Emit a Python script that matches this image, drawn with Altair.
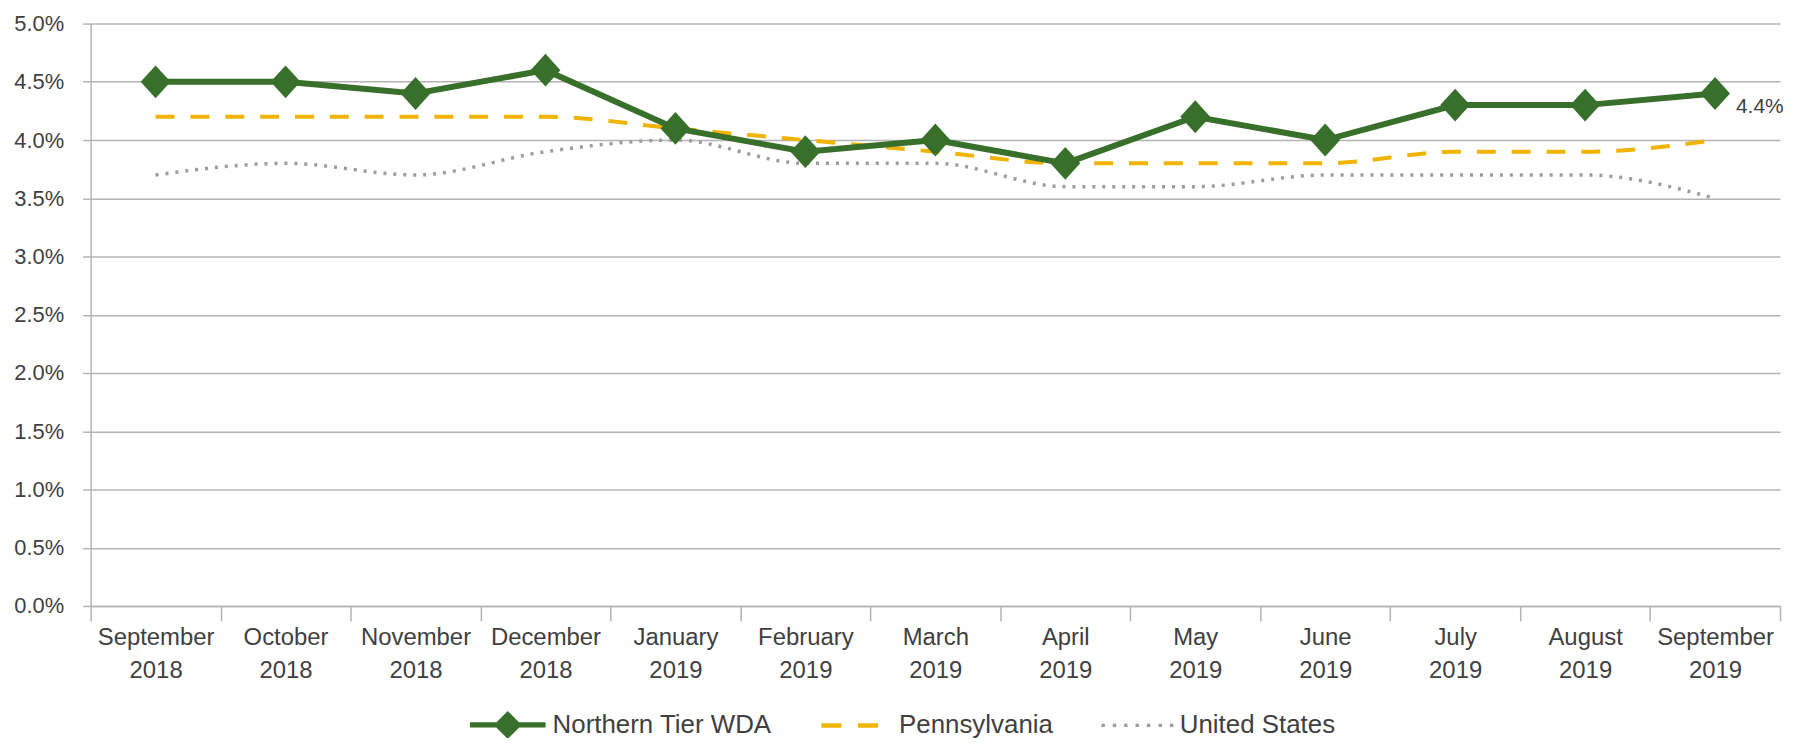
import altair as alt
import pandas as pd

months = ["September 2018", "October 2018", "November 2018", "December 2018",
          "January 2019", "February 2019", "March 2019", "April 2019", "May 2019",
          "June 2019", "July 2019", "August 2019", "September 2019"]
northern_tier = [4.5, 4.5, 4.4, 4.6, 4.1, 3.9, 4.0, 3.8, 4.2, 4.0, 4.3, 4.3, 4.4]
pennsylvania = [4.2, 4.2, 4.2, 4.2, 4.1, 4.0, 3.9, 3.8, 3.8, 3.8, 3.9, 3.9, 4.0]
united_states = [3.7, 3.8, 3.7, 3.9, 4.0, 3.8, 3.8, 3.6, 3.6, 3.7, 3.7, 3.7, 3.5]
series_names = ["Northern Tier WDA", "Pennsylvania", "United States"]
y_ticks = [0.0, 0.5, 1.0, 1.5, 2.0, 2.5, 3.0, 3.5, 4.0, 4.5, 5.0]

colors = ["#376F2B", "#F0B400", "#9C9C9C"]
FONT = "Liberation Sans"
TEXT = "#404040"
GRID = "#B4B4B4"

rows = []
for name, vals in zip(series_names, [northern_tier, pennsylvania, united_states]):
    for m, v in zip(months, vals):
        rows.append({"month": m, "series": name, "rate": v})
df = pd.DataFrame(rows)

# legend symbol paths (unit box -1..1)
def rect(x0, x1, h):
    return f"M{x0},{-h}H{x1}V{h}H{x0}Z"

nt_path = rect(-1, 1, 0.07) + "M0,-0.37L0.37,0L0,0.37L-0.37,0Z"
pa_path = rect(-0.87, -0.34, 0.06) + rect(0.1, 0.63, 0.06)
us_path = "".join(rect(c - 0.045, c + 0.045, 0.045) for c in [-0.84, -0.54, -0.24, 0.06, 0.36, 0.67, 0.97])

x_enc = alt.X(
    "month:N", sort=months,
    scale=alt.Scale(type="band", paddingInner=0, paddingOuter=0),
    axis=alt.Axis(title=None, labelExpr="split(datum.label, ' ')", tickBand="extent",
                  labelAngle=0, labelFont=FONT, labelFontSize=24, labelColor=TEXT,
                  labelLineHeight=33, labelPadding=5, tickSize=15, tickColor=GRID,
                  tickWidth=1.5, domainColor=GRID, domainWidth=1.5, grid=False),
)
y_enc = alt.Y(
    "rate:Q", scale=alt.Scale(domain=[0, 5]),
    axis=alt.Axis(title=None, values=y_ticks, labelExpr="format(datum.value, '.1f') + '%'",
                  labelFont=FONT, labelFontSize=22, labelColor=TEXT, labelPadding=19,
                  tickSize=8, tickColor=GRID, tickWidth=1.5, domainColor=GRID,
                  domainWidth=1.5, grid=True, gridColor=GRID, gridWidth=1.5),
)

base = alt.Chart(df).encode(x=x_enc, y=y_enc)

us_line = base.transform_filter(alt.datum.series == series_names[2]).mark_line(
    color=colors[2], strokeWidth=3.5, strokeDash=[3, 7], interpolate="monotone")
pa_line = base.transform_filter(alt.datum.series == series_names[1]).mark_line(
    color=colors[1], strokeWidth=4, strokeDash=[19, 16], interpolate="monotone")
nt_line = base.transform_filter(alt.datum.series == series_names[0]).mark_line(
    color=colors[0], strokeWidth=6)
nt_points = base.transform_filter(alt.datum.series == series_names[0]).mark_point(
    shape="M0,-1.1L1,0L0,1.1L-1,0Z", size=900, filled=True, opacity=1,
    color=colors[0], strokeWidth=0)

end_label = base.transform_filter(
    (alt.datum.series == series_names[0]) & (alt.datum.month == months[-1])
).transform_calculate(
    lbl="format(datum.rate, '.1f') + '%'"
).mark_text(align="left", baseline="middle", dx=21, dy=14, font=FONT,
            fontSize=21, color=TEXT).encode(text="lbl:N")

legend = alt.Legend(title=None, orient="none", legendX=381, legendY=666,
                    direction="horizontal", labelFont=FONT, labelFontSize=26,
                    labelColor=TEXT, labelOffset=7, columnPadding=44,
                    symbolSize=5776, symbolStrokeWidth=0, padding=0, labelLimit=400)

legend_layer = base.transform_filter("false").mark_point(
    filled=True, opacity=1, strokeWidth=0, size=5776).encode(
    fill=alt.Fill("series:N", scale=alt.Scale(domain=series_names, range=colors), legend=legend),
    shape=alt.Shape("series:N", scale=alt.Scale(domain=series_names,
                                                range=[nt_path, pa_path, us_path]), legend=legend),
)

chart = alt.layer(us_line, pa_line, nt_line, nt_points, end_label, legend_layer).properties(
    width=1697, height=585,
    autosize=alt.AutoSizeParams(type="none"),
    padding={"left": 83, "top": 14, "right": 9, "bottom": 131},
).configure_view(strokeWidth=0)

chart.save("out.html", embed_options={"renderer": "svg", "actions": False})
